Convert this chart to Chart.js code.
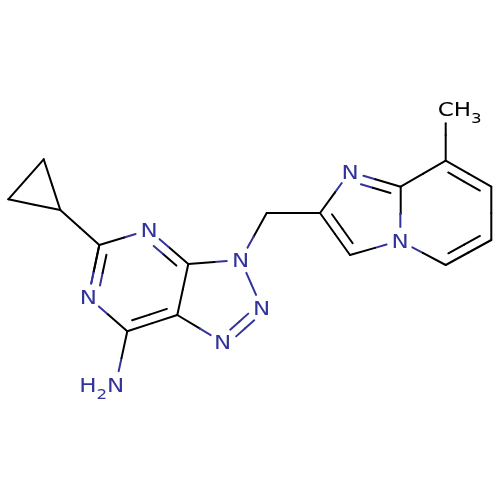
<!DOCTYPE html>
<html lang="en">
<head>
    <meta charset="UTF-8">
    <title>Molecule</title>
    <style>
        html, body { margin: 0; padding: 0; background: #fff; }
        canvas { display: block; }
    </style>
    <script src="https://cdn.jsdelivr.net/npm/chart.js"></script>
</head>
<body>
    <canvas id="mol" width="500" height="500"></canvas>
    <script>
        // atoms
        const atomLabel = ['', '', '', '', 'N', '', 'N', 'N', 'N', '', '', 'N', 'H2N', '', '', '', 'N', '', 'N', '', 'CH3', '', '', ''];
        const atomX = [43.7, 8.3, 60.3, 99.3, 149, 188.3, 240.7, 261.7, 222.7, 177.3, 127.3, 88.3, 115.7, 266.7, 320, 350, 400, 400.7, 350, 445.7, 445.7, 491.3, 491.3, 445.7];
        const atomY = [159.3, 199.3, 210, 245, 230, 264, 260, 307.7, 342.3, 315, 331.3, 297.3, 385, 213, 213, 255, 240.7, 186.7, 171.7, 160.7, 109.3, 186.7, 240, 265];

        // bonds: side is 0 for single, +1/-1 for the inner line of a double, 2 for a centred double
        const bondFrom = [0, 1, 2, 2, 3, 3, 4, 5, 5, 6, 7, 8, 9, 10, 11, 10, 6, 13, 14, 14, 15, 16, 17, 17, 19, 19, 21, 22, 23];
        const bondTo = [1, 2, 0, 3, 4, 11, 5, 6, 9, 7, 8, 9, 10, 11, 3, 12, 13, 14, 15, 18, 16, 17, 18, 19, 20, 21, 22, 23, 16];
        const bondSide = [0, 0, 0, 0, 0, -1, 1, 0, 0, 0, 2, 0, 1, 0, 0, 0, 0, 0, -1, 0, 0, 0, -1, 0, 0, 1, 0, 1, 0];

        const BLACK = '#000000';
        const BLUE = '#333399';
        const TRIM = 14;
        const GAP = 9;
        const SHORT = 8;
        const STRETCH = 1.15; // the reference letters are a bit wider than DejaVu

        const datasets = [];

        function colourOf(i) {
            return /N/.test(atomLabel[i]) ? BLUE : BLACK;
        }

        function addPiece(x1, y1, x2, y2, colour) {
            datasets.push({
                data: [{ x: x1, y: y1 }, { x: x2, y: y2 }],
                showLine: true,
                borderColor: colour,
                borderWidth: 2,
                borderCapStyle: 'round',
                pointRadius: 0,
                tension: 0
            });
        }

        // one stroke of a bond, offset sideways, split in two colours at its middle
        function addStroke(a, b, offset, cut) {
            const dx = atomX[b] - atomX[a];
            const dy = atomY[b] - atomY[a];
            const len = Math.hypot(dx, dy);
            const ux = dx / len, uy = dy / len;
            const nx = -uy, ny = ux;
            const startAt = atomLabel[a] ? TRIM : cut;
            const endAt = atomLabel[b] ? TRIM : cut;
            const ox = atomX[a] + nx * offset, oy = atomY[a] + ny * offset;
            const p = t => [ox + ux * t, oy + uy * t];
            const s = p(startAt), m = p(len / 2), e = p(len - endAt);
            addPiece(s[0], s[1], m[0], m[1], colourOf(a));
            addPiece(m[0], m[1], e[0], e[1], colourOf(b));
        }

        bondFrom.forEach((a, i) => {
            const b = bondTo[i];
            const side = bondSide[i];
            if (side === 2) {
                addStroke(a, b, GAP / 2, 0);
                addStroke(a, b, -GAP / 2, 0);
                return;
            }
            addStroke(a, b, 0, 0);
            if (side !== 0) addStroke(a, b, side * GAP, SHORT);
        });

        // atom labels, the N or C of the label sits on the atom
        const labelPlugin = {
            id: 'atomLabels',
            afterDatasetsDraw(chart) {
                const c = chart.ctx;
                c.save();
                c.textBaseline = 'alphabetic';
                c.textAlign = 'left';
                atomLabel.forEach((text, i) => {
                    if (!text) return;
                    const px = chart.scales.x.getPixelForValue(atomX[i]);
                    const py = chart.scales.y.getPixelForValue(atomY[i]) + 7;
                    c.fillStyle = colourOf(i);
                    const chars = text.split('');
                    const fontOf = ch => /\d/.test(ch) ? '14.5px "DejaVu Sans"' : '20px "DejaVu Sans"';
                    const widths = chars.map(ch => { c.font = fontOf(ch); return c.measureText(ch).width * STRETCH; });
                    const anchor = text.search(/[NC]/);
                    let x = px - widths[anchor] / 2;
                    for (let k = 0; k < anchor; k++) x -= widths[k];
                    chars.forEach((ch, k) => {
                        c.font = fontOf(ch);
                        c.save();
                        c.translate(x, /\d/.test(ch) ? py + 6.5 : py);
                        c.scale(STRETCH, 1);
                        c.fillText(ch, 0, 0);
                        c.restore();
                        x += widths[k];
                    });
                });
                c.restore();
            }
        };

        new Chart(document.getElementById('mol'), {
            type: 'scatter',
            data: { datasets: datasets },
            options: {
                responsive: false,
                animation: false,
                layout: { padding: 0 },
                plugins: { legend: { display: false }, tooltip: { enabled: false } },
                scales: {
                    x: { type: 'linear', min: 0, max: 500, display: false },
                    y: { type: 'linear', min: 0, max: 500, reverse: true, display: false }
                }
            },
            plugins: [labelPlugin]
        });
    </script>
</body>
</html>
